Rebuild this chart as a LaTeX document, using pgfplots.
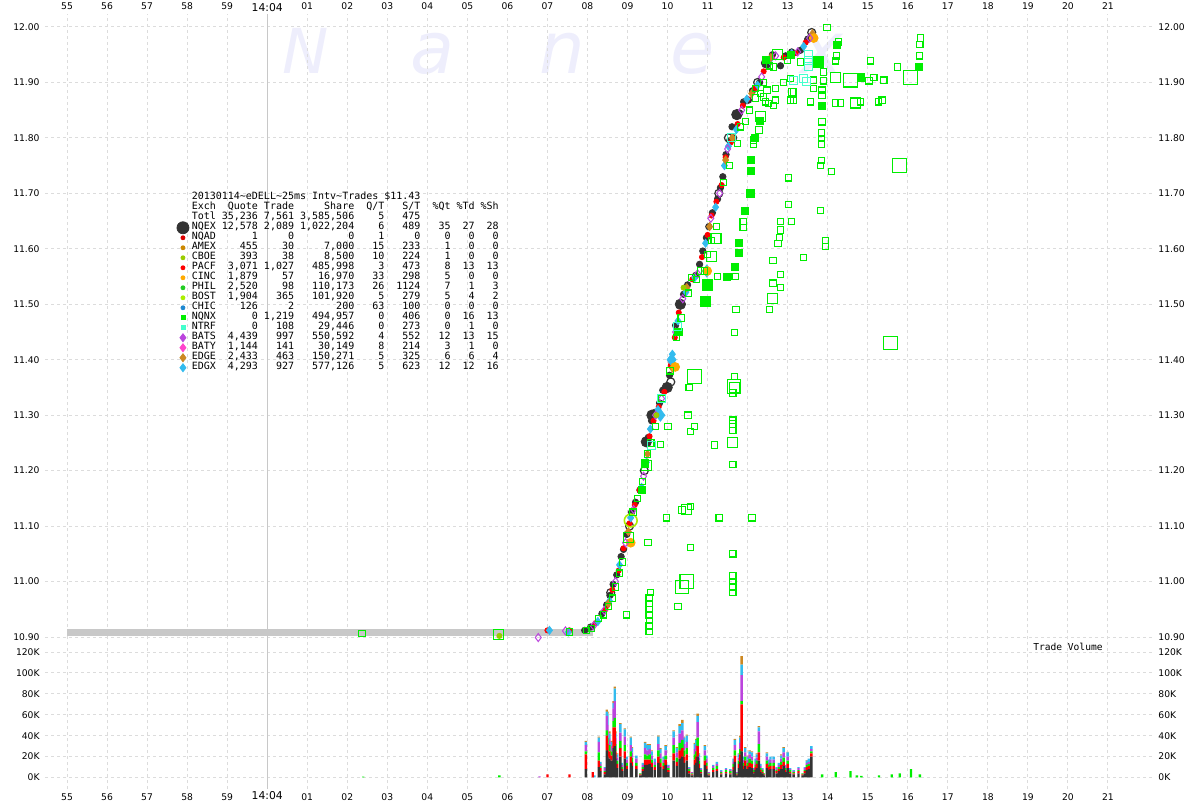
\documentclass[border=0pt]{standalone}
\usepackage{pgfplots}
\pgfplotsset{compat=1.18}
\usepackage{pgfplotstable}
\usepackage{fontspec}
\setmainfont{DejaVu Sans}
\newfontfamily\monofont{DejaVu Sans Mono}

\definecolor{gridc}{RGB}{220,220,220}
\definecolor{bandc}{RGB}{200,200,200}
\definecolor{nqex}{RGB}{51,51,51}
\definecolor{nqad}{RGB}{221,0,0}
\definecolor{amex}{RGB}{204,136,0}
\definecolor{cboe}{RGB}{153,204,0}
\definecolor{pacf}{RGB}{255,0,0}
\definecolor{cinc}{RGB}{255,170,0}
\definecolor{phil}{RGB}{34,204,34}
\definecolor{bost}{RGB}{170,238,0}
\definecolor{chic}{RGB}{30,136,208}
\definecolor{nqnx}{RGB}{0,238,0}
\definecolor{ntrf}{RGB}{68,255,204}
\definecolor{bats}{RGB}{187,68,221}
\definecolor{baty}{RGB}{255,68,204}
\definecolor{edge}{RGB}{204,136,34}
\definecolor{edgx}{RGB}{51,187,238}
\definecolor{wm}{RGB}{238,238,252}

\newlength\cw
\setlength\cw{3.01pt}
\newcommand\row[9]{\makebox[4\cw][l]{#1}\makebox[7\cw][r]{#2}\makebox[6\cw][r]{#3}\makebox[10\cw][r]{#4}\makebox[5\cw][r]{#5}\makebox[6\cw][r]{#6}\makebox[5\cw][r]{#7}\makebox[4\cw][r]{#8}\makebox[4\cw][r]{#9}}
\newcommand\tickfont{\fontsize{4.6}{5}\selectfont}

% trade volume per 25ms interval, thousands of shares, by exchange
\pgfplotstableread{
x     k   r   g   p   b   o
2.40  0   0   0.8 0   0   0
5.80  0   0   2   0   0   0
6.80  0   0   0   1   0   0
7.00  0   3   0   0   0   0
7.55  0   3   0   0   0   0
7.96  8   14  3   6   3   1
8.13  0   5   0   0   0   0
8.17  0   0   0   0   2   0
8.28  10  6   8   10  4   1
8.32  6   3   2   2   2   0
8.43  3   2   1   3   1   0
8.48  26  14  5   14  4   2
8.50  20  12  6   12  11  2
8.55  18  7   6   6   5   2
8.60  16  5   4   5   4   1
8.65  28  20  6   12  5   2
8.68  30  18  9   16  12  2
8.70  18  7   7   6   4   2
8.74  9   4   3   3   3   1
8.82  20  8   7   8   8   1
8.86  6   2   2   2   2   0
8.93  18  7   6   8   7   1
8.98  8   3   3   3   3   0
9.08  14  6   5   6   7   1
9.11  11  4   4   5   4   1
9.22  8   3   3   4   3   0
9.32  2   1   1   0   0   0
9.38  6   2   2   2   2   0
9.44  12  5   5   6   5   1
9.50  12  5   4   5   5   1
9.55  13  4   5   5   4   1
9.60  10  4   3   4   4   1
9.68  7   3   2   3   3   0
9.77  14  6   6   6   7   1
9.82  10  4   4   5   4   1
9.90  8   3   3   3   3   0
9.95  12  5   4   5   4   1
10.02 5   2   2   2   1   0
10.15 16  7   8   7   6   1
10.23 11  4   4   5   4   1
10.30 18  8   7   9   7   2
10.33 14  6   5   7   6   1.5
10.37 20  8   8   9   7   3
10.41 14  6   6   6   6   1
10.48 16  6   6   6   6   1
10.54 4   2   2   1   1   0
10.61 2   1   1   1   0   0
10.68 12  5   5   5   5   1
10.72 14  6   5   6   5   1
10.75 20  10  8   15  6   2
10.78 9   4   3   3   3   1
10.83 4   1   2   1   1   0
10.93 12  4   5   5   4   1
10.97 8   3   3   4   3   0
11.03 2   1   1   1   0   0
11.14 5   2   2   2   1   0
11.23 6   2   3   2   2   0
11.34 3   1   1   1   1   0
11.46 4   1   2   1   1   0
11.57 3   1   2   1   1   0
11.65 7   3   3   2   3   0
11.68 15  6   5   5   5   1
11.74 2   1   1   1   0   0
11.78 9   4   3   3   3   1
11.82 15  7   5   6   5   2
11.85 25  45  3   25  10  8
11.90 8   3   3   3   3   0
11.94 11  5   4   4   4   1
12.00 8   3   3   3   3   1
12.05 10  4   4   4   3   1
12.11 9   4   3   4   4   1
12.15 4   1   2   1   1   0
12.20 7   3   2   3   3   0
12.23 9   4   3   3   3   1
12.28 16  8   8   12  4   1
12.32 5   2   2   2   2   0
12.37 4   1   2   1   1   0
12.40 2   1   1   0   0   0
12.48 9   4   3   4   3   1
12.53 7   3   2   2   3   0
12.57 8   3   3   3   3   0
12.65 8   3   3   3   3   0
12.72 4   2   1   2   1   0
12.78 6   2   2   2   2   0
12.84 8   4   3   3   3   1
12.90 11  4   4   5   4   1
12.94 5   2   2   2   1   0
13.00 9   4   3   4   4   0.5
13.06 4   1   2   1   1   0
13.15 3   1   1   1   1   0
13.27 4   2   1   2   1   0
13.37 2   1   1   0   0   0
13.43 4   2   1   2   1   0
13.48 7   3   2   2   2   0.5
13.53 8   3   2   2   3   0
13.59 20  3   2   2   3   0
13.86 0   0   3   0   0   0
14.20 0   0   5   0   0   0
14.57 0   0   6   0   0   0
14.73 0   0   2   0   0   0
14.84 0   0   1.5 0   0   0
15.28 0   0   2   0   0   0
15.60 0   0   3   0   0   0
15.80 0   0   4   0   0   0
16.08 0   0   8   0   0   0
16.30 0   0   3   0   0   0
}\voltable

\pgfplotsset{
  nxstyle/.style={
    scale only axis, width=553.5pt,
    xmin=-5.55, xmax=22.1,
    axis line style={draw=none},
    major tick length=0pt,
    tick label style={font=\tickfont},
    grid style={gridc, line width=0.5pt, dash pattern=on 1.5pt off 1.5pt},
  },
  pricey/.style={
    height=315.5pt, ymin=10.8856, ymax=12.0234,
    ytick={10.9,11.0,11.1,11.2,11.3,11.4,11.5,11.6,11.7,11.8,11.9,12.0},
    yticklabels={10.90,11.00,11.10,11.20,11.30,11.40,11.50,11.60,11.70,11.80,11.90,12.00},
  },
  voly/.style={
    height=72pt, ymin=-11.04, ymax=126.72,
    ytick={0,20,40,60,80,100,120},
    yticklabels={0K,20K,40K,60K,80K,100K,120K},
  },
  secticks/.style={
    xtick={-5,-4,-3,-2,-1,1,2,3,4,5,6,7,8,9,10,11,12,13,14,15,16,17,18,19,20,21},
    xticklabels={55,56,57,58,59,01,02,03,04,05,06,07,08,09,10,11,12,13,14,15,16,17,18,19,20,21},
    extra x ticks={0},
    extra x tick labels={{\fontsize{5.4}{6}\selectfont 14:04}},
    extra x tick style={grid style={solid, bandc, line width=0.6pt}},
  },
}

\begin{document}
\begin{tikzpicture}
\path[use as bounding box] (0,0) rectangle (600pt,400pt);

% watermark
\begin{scope}[every node/.style={anchor=base, text=wm, inner sep=0pt}]
\node[font=\itshape\fontsize{31}{31}\selectfont] at (153pt,363.3pt) {N};
\node[font=\itshape\fontsize{36}{36}\selectfont] at (216.5pt,363.3pt) {a};
\node[font=\itshape\fontsize{36}{36}\selectfont] at (281.2pt,363.3pt) {n};
\node[font=\itshape\fontsize{36}{36}\selectfont] at (346.2pt,363.3pt) {e};
\node[font=\itshape\fontsize{36}{36}\selectfont] at (411pt,363.3pt) {x};
\end{scope}

% price axis
\begin{axis}[nxstyle, pricey, secticks,
  at={(22.5pt,77.5pt)}, anchor=south west,
  grid=major,
  xticklabel pos=upper,
  xticklabel style={inner sep=0pt, yshift=2pt},
  every extra x tick/.append style={xticklabel style={yshift=-1.1pt}},
  yticklabel style={anchor=east, inner sep=0pt, xshift=-2.5pt},
  legend image code/.code={%
    \pgfinterruptboundingbox
    \draw[#1] plot coordinates {(0pt,0pt)};
    \endpgfinterruptboundingbox
    \path[draw=none, fill=none] (-3pt,-1pt) rectangle (3pt,1pt);},
  legend cell align=left,
  legend style={at={(0.1192,0.7167)}, anchor=north west, draw=none, fill=none,
    inner sep=0pt, outer sep=0pt, row sep=0pt, column sep=1.4pt,
    font=\monofont\fontsize{5}{5}\selectfont,
    nodes={inner sep=0pt, text height=3.6pt, text depth=1.4pt}},
]
\addlegendimage{empty legend}
\addlegendentry{20130114\textasciitilde eDELL\textasciitilde 25ms Intv\textasciitilde Trades \$11.43}
\addlegendimage{empty legend}
\addlegendentry{\row{Exch}{Quote}{Trade}{Share}{Q/T}{S/T}{\%Qt}{\%Td}{\%Sh}}
\addlegendimage{empty legend}
\addlegendentry{\row{Totl}{35,236}{7,561}{3,585,506}{5}{475}{}{}{}}
\addlegendimage{nqex, only marks, mark=*, mark size=3pt}
\addlegendentry{\row{NQEX}{12,578}{2,089}{1,022,204}{6}{489}{35}{27}{28}}
\addlegendimage{nqad, only marks, mark=*, mark size=1pt}
\addlegendentry{\row{NQAD}{1}{0}{0}{1}{0}{0}{0}{0}}
\addlegendimage{amex, only marks, mark=*, mark size=1pt}
\addlegendentry{\row{AMEX}{455}{30}{7,000}{15}{233}{1}{0}{0}}
\addlegendimage{cboe, only marks, mark=*, mark size=1pt}
\addlegendentry{\row{CBOE}{393}{38}{8,500}{10}{224}{1}{0}{0}}
\addlegendimage{pacf, only marks, mark=*, mark size=1pt}
\addlegendentry{\row{PACF}{3,071}{1,027}{485,998}{3}{473}{8}{13}{13}}
\addlegendimage{cinc, only marks, mark=*, mark size=1pt}
\addlegendentry{\row{CINC}{1,879}{57}{16,970}{33}{298}{5}{0}{0}}
\addlegendimage{phil, only marks, mark=*, mark size=1pt}
\addlegendentry{\row{PHIL}{2,520}{98}{110,173}{26}{1124}{7}{1}{3}}
\addlegendimage{bost, only marks, mark=*, mark size=1pt}
\addlegendentry{\row{BOST}{1,904}{365}{101,920}{5}{279}{5}{4}{2}}
\addlegendimage{chic, only marks, mark=*, mark size=1pt}
\addlegendentry{\row{CHIC}{126}{2}{200}{63}{100}{0}{0}{0}}
\addlegendimage{nqnx, only marks, mark=square*, mark size=1pt}
\addlegendentry{\row{NQNX}{0}{1,219}{494,957}{0}{406}{0}{16}{13}}
\addlegendimage{ntrf, only marks, mark=square*, mark size=1pt}
\addlegendentry{\row{NTRF}{0}{108}{29,446}{0}{273}{0}{1}{0}}
\addlegendimage{bats, only marks, mark=diamond*, mark size=2pt}
\addlegendentry{\row{BATS}{4,439}{997}{550,592}{4}{552}{12}{13}{15}}
\addlegendimage{baty, only marks, mark=diamond*, mark size=2pt}
\addlegendentry{\row{BATY}{1,144}{141}{30,149}{8}{214}{3}{1}{0}}
\addlegendimage{edge, only marks, mark=diamond*, mark size=2pt}
\addlegendentry{\row{EDGE}{2,433}{463}{150,271}{5}{325}{6}{6}{4}}
\addlegendimage{edgx, only marks, mark=diamond*, mark size=2pt}
\addlegendentry{\row{EDGX}{4,293}{927}{577,126}{5}{623}{12}{12}{16}}

% best bid/offer band before the move
\addplot[forget plot, bandc, line width=3.4pt] coordinates {(-5,10.908) (8.13,10.908)};

% NQEX
\addplot[forget plot, nqex, only marks, mark=*, mark size=1.6pt] coordinates {
(7.93,10.912) (8.08,10.918) (8.36,10.942) (8.48,10.958) (8.56,10.975) (8.64,10.995) (8.73,11.012)
(8.84,11.045) (8.90,11.058) (8.98,11.085) (9.10,11.125) (9.20,11.143) (9.31,11.165) (9.46,11.252)
(9.52,11.26) (9.60,11.29) (9.68,11.305) (9.80,11.322) (9.88,11.345) (10.05,11.372) (10.10,11.398)
(10.20,11.462) (10.30,11.50) (10.40,11.518) (10.50,11.535) (10.70,11.552) (10.80,11.572) (10.88,11.596)
(10.97,11.62) (11.03,11.64) (11.12,11.665) (11.25,11.69) (11.32,11.71) (11.38,11.73) (11.46,11.77)
(11.55,11.795) (11.61,11.82) (11.65,11.80) (11.70,11.84) (11.80,11.845) (11.90,11.865) (12.02,11.868)
(12.12,11.885) (12.30,11.90) (12.45,11.935) (12.62,11.95) (12.82,11.93) (12.95,11.948) (13.10,11.955)
(13.32,11.958) (13.50,11.978) (13.57,11.98)};
\addplot[forget plot, nqex, only marks, mark=*, mark size=2.6pt] coordinates {
(9.61,11.30) (9.99,11.35) (10.32,11.50) (9.47,11.252) (11.73,11.842) (12.47,11.935)};
\addplot[forget plot, nqex, only marks, mark=o, mark size=2pt, mark options={line width=0.6pt}] coordinates {
(8.58,10.98) (9.05,11.10) (9.42,11.20) (10.08,11.36) (11.28,11.70) (11.52,11.80) (12.25,11.90) (13.60,11.99)};

% PACF / NQAD
\addplot[forget plot, pacf, only marks, mark=*, mark size=1.3pt] coordinates {
(7.00,10.912) (7.55,10.912) (8.20,10.925) (8.45,10.95) (8.62,10.985) (8.78,11.02) (8.90,11.06)
(9.05,11.105) (9.18,11.138) (9.30,11.165) (9.43,11.21) (9.55,11.262) (9.65,11.29) (9.78,11.315)
(9.92,11.342) (10.08,11.39) (10.18,11.44) (10.28,11.485) (10.45,11.53) (10.62,11.545) (10.86,11.585)
(11.00,11.625) (11.10,11.66) (11.22,11.685) (11.35,11.715) (11.45,11.765) (11.58,11.792) (11.75,11.825)
(11.88,11.858) (12.00,11.87) (12.20,11.89) (12.40,11.92) (12.60,11.945) (12.90,11.945) (13.20,11.953)
(13.45,11.972)};

% EDGX
\addplot[forget plot, edgx, only marks, mark=diamond*, mark size=2pt] coordinates {
(7.52,10.909) (7.05,10.912) (8.26,10.928) (8.55,10.965) (8.80,11.03) (9.08,11.115) (9.35,11.17)
(9.47,11.215) (9.57,11.275) (9.76,11.31) (10.12,11.41) (10.26,11.47) (10.46,11.522) (10.68,11.548)
(10.95,11.61) (11.20,11.675) (11.42,11.75) (11.52,11.785) (11.72,11.815) (11.98,11.87) (12.25,11.895)
(12.55,11.94) (13.10,11.952) (13.40,11.965)};
\addplot[forget plot, edgx, only marks, mark=diamond*, mark size=3pt] coordinates {
(10.10,11.40) (9.82,11.30) (10.98,11.56)};

% EDGE and CINC
\addplot[forget plot, edge, only marks, mark=diamond*, mark size=2pt] coordinates {
(8.52,10.96) (9.02,11.09) (9.50,11.23) (10.12,11.385) (10.48,11.53) (11.05,11.64) (11.45,11.76)
(11.62,11.80) (12.10,11.88) (12.58,11.945) (13.62,11.988)};
\addplot[forget plot, cinc, only marks, mark=*, mark size=2.2pt] coordinates {
(10.19,11.387) (9.08,11.07) (10.99,11.56) (13.65,11.98)};

% BATS / BATY
\addplot[forget plot, bats, only marks, mark=diamond, mark size=2pt, mark options={line width=0.5pt}] coordinates {
(6.77,10.899) (7.45,10.911) (8.15,10.92) (8.42,10.948) (8.70,11.00) (8.95,11.07) (9.15,11.13)
(9.40,11.19) (9.70,11.30) (9.85,11.33) (10.20,11.45) (10.38,11.51) (10.75,11.555) (11.08,11.655)
(11.30,11.70) (11.50,11.78) (11.85,11.85) (12.35,11.91) (12.70,11.948) (13.25,11.955) (13.55,11.98)};

% BOST / CBOE
\addplot[forget plot, bost, only marks, mark=o, mark size=3.2pt, mark options={line width=0.8pt}] coordinates {
(9.08,11.11)};
\addplot[forget plot, cboe, only marks, mark=*, mark size=1.3pt] coordinates {
(5.80,10.902) (9.72,11.30) (10.40,11.53)};

% NQNX trades, open squares
\addplot[forget plot, nqnx, only marks, mark=square, mark size=1.6pt, mark options={line width=0.55pt}] coordinates {
(2.37,10.906) (7.55,10.909) (7.98,10.912) (8.10,10.915) (8.27,10.933) (8.40,10.94) (8.52,10.955)
(8.62,10.97) (8.70,10.99) (8.80,11.015) (8.88,11.035) (9.14,11.125) (9.25,11.15) (9.38,11.18)
(9.50,11.23) (9.58,11.25) (9.70,11.28) (9.86,11.33) (10.06,11.38) (10.22,11.44) (10.34,11.475)
(10.52,11.52) (10.60,11.548) (10.72,11.545) (10.82,11.56) (10.92,11.56) (11.00,11.59) (11.10,11.615)
(11.22,11.64) (11.40,11.72) (11.55,11.75) (11.75,11.79) (11.82,11.82) (11.95,11.83) (12.05,11.85)
(12.20,11.872) (12.40,11.90) (12.55,11.93) (12.90,11.90) (13.00,11.94)
(13.98,11.999) (14.27,11.973) (16.32,11.98) (16.30,11.968) (16.29,11.948) (14.22,11.948) (14.20,11.939)
(15.07,11.939) (15.74,11.928) (15.15,11.909) (15.40,11.904) (15.03,11.903) (13.90,11.903)
(13.65,11.904) (13.65,11.889) (13.86,11.886) (13.86,11.877) (13.57,11.865) (14.20,11.863) (14.32,11.863)
(14.82,11.865) (15.27,11.865) (15.36,11.868) (12.65,11.858) (13.07,11.868) (13.15,11.868) (13.15,11.883)
(12.70,11.868) (12.45,11.865) (13.86,11.829) (13.84,11.809) (13.84,11.799) (13.84,11.789) (13.84,11.759)
(13.82,11.75) (14.09,11.739) (13.02,11.728) (13.02,11.68) (13.82,11.669) (12.82,11.649) (13.09,11.649)
(12.82,11.634) (12.80,11.62) (12.76,11.61) (13.94,11.615) (13.94,11.604) (12.63,11.579) (13.39,11.584)
(12.82,11.554) (12.63,11.538) (12.82,11.53) (12.54,11.491) (11.71,11.491) (11.67,11.449) (11.67,11.37)
(11.63,11.34) (10.54,11.35) (10.51,11.30) (10.67,11.28) (10.57,11.271) (11.17,11.246) (11.63,11.291)
(11.63,11.284) (11.63,11.272) (11.63,11.211) (10.36,11.129) (10.57,11.135) (9.97,11.115) (11.29,11.115)
(12.11,11.115) (9.51,11.07) (10.57,11.061) (11.63,11.05) (10.26,10.955) (11.63,11.01) (11.63,11.0)
(11.63,10.99) (11.63,10.98) (9.57,10.98) (9.54,10.97) (9.54,10.96) (9.54,10.95) (9.54,10.94)
(9.55,10.93) (9.54,10.92) (9.54,10.91) (8.98,10.94) (9.82,11.247) (10.01,11.28)
(12.65,11.928) (13.32,11.937) (13.90,11.919) (13.07,11.907) (12.69,11.889) (13.11,11.883) (12.40,11.874)
(12.48,11.886) (12.52,11.862) (12.32,11.88) (12.19,11.889) (12.28,11.814) (12.15,11.796) (12.15,11.789)
(11.89,11.649) (11.89,11.638) (11.25,11.55) (11.69,11.55)};
\addplot[forget plot, nqnx, only marks, mark=square, mark size=2.5pt, mark options={line width=0.55pt}] coordinates {
(14.20,11.909) (14.70,11.863) (12.63,11.51) (11.67,11.35) (11.63,11.251) (10.48,11.13) (12.74,11.95)
(11.21,11.619) (11.09,11.586) (9.48,11.21) (5.77,10.904) (9.02,11.08) (12.32,11.838)};
\addplot[forget plot, nqnx, only marks, mark=square, mark size=3.4pt, mark options={line width=0.55pt}] coordinates {
(16.07,11.909) (14.57,11.904) (15.79,11.75) (15.57,11.43) (10.67,11.37) (10.48,11.0) (10.36,10.99)
(11.66,11.352)};
\addplot[forget plot, nqnx, only marks, mark=square*, mark size=1.8pt] coordinates {
(13.78,11.934) (13.86,11.857) (12.09,11.76) (12.09,11.74) (12.07,11.70) (11.94,11.668) (11.79,11.61)
(11.78,11.592) (11.69,11.568) (11.48,11.55) (12.30,11.83) (12.19,11.80) (14.23,11.968) (14.82,11.909)
(16.28,11.928) (9.36,11.165) (9.44,11.213) (10.27,11.45) (13.08,11.95) (12.45,11.94)};
\addplot[forget plot, nqnx, only marks, mark=square*, mark size=2.6pt] coordinates {
(10.94,11.505) (13.77,11.937) (11.00,11.535)};

% NTRF
\addplot[forget plot, ntrf, only marks, mark=square, mark size=2pt, mark options={line width=0.55pt}] coordinates {
(13.53,11.95) (13.53,11.939) (13.53,11.928) (13.40,11.907) (13.47,11.901) (13.15,11.904) (10.25,11.46)
(9.85,11.33) (9.60,11.245) (11.60,11.80)};
\end{axis}

% right-hand price labels
\begin{axis}[nxstyle, pricey, at={(22.5pt,77.5pt)}, anchor=south west,
  xtick=\empty, yticklabel pos=right,
  yticklabel style={anchor=west, inner sep=0pt, xshift=3pt}]
\end{axis}

% trade volume
\begin{axis}[nxstyle, voly, secticks,
  at={(22.5pt,5.5pt)}, anchor=south west,
  grid=major, clip=false,
  xticklabel pos=lower,
  xticklabel style={inner sep=0pt, yshift=-2.2pt},
  every extra x tick/.append style={xticklabel style={yshift=1.2pt}},
  yticklabel style={anchor=east, inner sep=0pt, xshift=-2.5pt},
  ybar stacked, bar width=0.06,
]
\addplot[fill=nqex, draw=none] table[x=x, y=k] {\voltable};
\addplot[fill=pacf, draw=none] table[x=x, y=r] {\voltable};
\addplot[fill=nqnx, draw=none] table[x=x, y=g] {\voltable};
\addplot[fill=bats, draw=none] table[x=x, y=p] {\voltable};
\addplot[fill=edgx, draw=none] table[x=x, y=b] {\voltable};
\addplot[fill=edge, draw=none] table[x=x, y=o] {\voltable};
\node[anchor=south, inner sep=0pt, font=\monofont\fontsize{4.8}{5}\selectfont] at (axis cs:20,121) {Trade Volume};
\end{axis}

% right-hand volume labels
\begin{axis}[nxstyle, voly, at={(22.5pt,5.5pt)}, anchor=south west,
  xtick=\empty, yticklabel pos=right,
  yticklabel style={anchor=west, inner sep=0pt, xshift=3pt}]
\end{axis}
\end{tikzpicture}
\end{document}
